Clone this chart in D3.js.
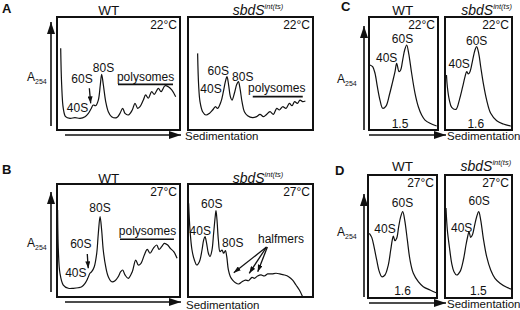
<!DOCTYPE html>
<html>
<head>
<meta charset="utf-8">
<script src="https://cdn.jsdelivr.net/npm/d3@7"></script>
<style>
  body { margin: 0; background: #fff; }
  svg { display: block; }
  text { font-family: "Liberation Sans", Arial, sans-serif; fill: #111; }
</style>
</head>
<body>
<svg id="fig" width="520" height="310"></svg>
<script>
// polysome profiles: sedimentation position (0-100 of gradient) and A254 (0-100, relative)
const wt22Sed = [3.0,3.8,5.1,7.0,10.6,14.6,18.7,22.8,25.5,27.6,29.5,31.4,33.6,35.2,36.3,37.7,39.6,41.7,44.4,48.5,51.2,53.4,55.3,58.0,61.2,63.4,65.6,67.5,70.2,72.1,74.2,77.0,79.1,82.4,84.6,87.8,90.5,93.3,96.5];
const wt22Abs = [72.3,39.8,19.2,11.8,10.3,10.9,10.3,11.8,14.7,18.6,22.1,21.5,26.5,39.8,49.3,39.8,25.1,16.2,11.8,10.9,14.7,19.2,14.7,13.3,17.7,23.6,19.2,20.6,26.5,31.0,28.1,33.9,31.6,36.9,33.9,39.2,38.3,35.4,29.5];

const mut22Sed = [7.7,8.5,9.6,11.7,14.4,17.1,19.7,21.9,23.7,26.4,28.3,29.9,31.2,32.5,33.9,35.2,37.1,39.0,40.3,41.6,43.2,45.1,47.7,51.7,54.9,57.6,60.3,62.4,65.6,68.3,71.0,73.1,75.7,78.4,81.1,83.2,85.3,87.5,89.6,91.7,93.9];
const mut22Abs = [67.8,39.8,25.1,16.2,13.3,14.7,17.7,20.6,19.2,25.1,33.9,42.8,47.2,39.8,29.5,26.5,32.5,40.4,42.8,36.9,25.1,16.2,12.7,10.9,11.8,13.9,11.8,13.3,16.2,13.9,19.2,17.7,20.6,19.2,23.6,21.5,25.1,23.6,26.5,25.1,25.7];

const wt27Sed = [0.5,1.1,2.4,5.1,9.2,13.3,17.3,20.1,22.8,25.0,26.8,28.2,30.3,32.3,33.6,35.0,36.3,37.6,39.6,41.7,44.5,47.2,49.8,51.8,53.4,55.3,58.0,61.2,64.0,66.1,68.3,71.0,73.4,75.6,78.3,81.1,82.9,85.1,87.2,90.0,92.1,94.9,97.6];
const wt27Abs = [77.0,41.6,21.0,10.6,7.7,7.7,8.2,9.1,12.1,16.5,21.0,22.4,26.8,38.7,56.4,71.1,59.3,41.6,26.8,18.0,13.5,14.4,18.0,22.4,23.9,19.5,16.5,22.4,32.7,28.3,29.8,37.2,42.2,38.7,43.1,46.0,42.2,44.5,47.5,46.0,43.1,40.1,34.2];

const mut27Sed = [0.5,1.6,3.2,5.1,7.0,9.1,11.2,12.5,13.6,14.9,16.3,17.6,19.2,20.5,21.9,22.4,23.2,24.3,25.6,27.2,28.5,29.9,31.0,32.3,33.9,35.7,37.9,40.5,43.2,45.9,48.5,51.2,53.1,55.7,58.4,61.1,63.7,67.2,70.4,73.6,77.1,80.5,83.7,86.4,89.1,91.7];
const mut27Abs = [82.9,59.3,41.6,32.7,28.3,31.2,41.6,50.4,53.4,47.5,38.7,35.7,41.6,56.4,72.6,76.4,68.1,50.4,40.1,41.6,38.7,41.0,35.7,23.9,18.0,15.0,12.7,11.5,13.5,15.0,14.4,17.4,16.5,18.6,19.5,18.6,20.4,20.4,21.0,20.4,19.5,18.0,15.0,10.6,6.2,0.3];

// subunit profiles (low Mg2+)
const wtSub22Sed = [1.4,5.3,8.7,12.1,15.9,19.8,24.6,29.5,34.3,37.7,40.1,43.5,45.9,48.8,51.7,54.6,57.5,61.8,66.7,71.5,76.3,81.2,88.4,98.1];
const wtSub22Abs = [57.5,56.0,50.2,38.3,26.5,19.2,21.2,31.0,42.8,51.6,59.0,51.6,53.1,61.9,70.8,75.2,67.9,50.2,32.5,20.6,13.3,8.8,5.9,3.5];

const mutSub22Sed = [2.2,3.5,6.5,10.0,16.4,21.4,26.4,29.9,32.4,34.8,37.3,41.3,44.8,47.3,50.3,53.3,57.2,62.2,68.2,77.2,87.0,98.1];
const mutSub22Abs = [48.7,38.3,26.5,20.1,18.3,26.5,38.3,47.2,51.6,49.6,51.6,61.9,70.8,73.7,67.9,56.0,41.3,26.5,14.8,8.2,5.3,3.5];

const wtSub27Sed = [1.9,5.4,8.7,12.6,16.4,19.9,24.6,29.4,32.9,35.2,36.7,39.1,41.6,44.5,47.4,50.3,53.2,57.0,60.9,65.7,72.9,80.1,89.9,98.6];
const wtSub27Abs = [52.6,49.3,41.7,30.9,21.4,17.3,18.7,26.8,39.0,47.2,50.4,46.6,48.5,58.0,66.1,70.2,63.4,47.2,30.9,20.1,13.3,9.2,6.5,4.3];

const mutSub27Sed = [1.5,3.5,6.5,10.0,13.4,17.4,22.4,27.4,31.3,33.8,35.8,38.3,40.8,44.3,47.3,50.3,53.3,57.2,62.2,68.2,74.6,82.1,92.1,99.6];
const mutSub27Abs = [73.2,55.3,41.7,28.2,21.4,18.7,21.4,30.9,43.1,49.8,53.9,49.3,51.2,59.3,66.1,70.2,63.4,48.5,33.6,22.8,16.0,12.0,8.7,7.1];

// 60S:40S ratios printed under the subunit profiles
const ratiosC = ['1.5', '1.6'];
const ratiosD = ['1.6', '1.5'];

const svg = d3.select('#fig');
const defs = svg.append('defs');

function marker(id, w, h) {
    defs.append('marker')
        .attr('id', id)
        .attr('viewBox', `0 0 ${w} ${h}`)
        .attr('refX', w).attr('refY', h / 2)
        .attr('markerWidth', w).attr('markerHeight', h)
        .attr('markerUnits', 'userSpaceOnUse')
        .attr('orient', 'auto')
        .append('path')
        .attr('d', `M0,0L${w},${h / 2}L0,${h}Z`)
        .attr('fill', '#111');
}
marker('axisHead', 12, 8);
marker('noteHead', 7, 5);

// row furniture: panel letter, axis arrows, axis labels
const rows = [
    { letter: 'A', lx: 2, ly: 13, ax: 51, ayTop: 22, ayBot: 126, sy: 135, sxL: 65, sxR: 181, sedX: 185, sedY: 140, aX: 27, aY: 81 },
    { letter: 'B', lx: 2, ly: 174, ax: 51, ayTop: 192, ayBot: 292, sy: 302, sxL: 65, sxR: 181, sedX: 186, sedY: 309, aX: 27, aY: 247 },
    { letter: 'C', lx: 341, ly: 11, ax: 364, ayTop: 26, ayBot: 130, sy: 135, sxL: 369, sxR: 446, sedX: 447, sedY: 140, aX: 337, aY: 83 },
    { letter: 'D', lx: 335, ly: 175, ax: 364, ayTop: 194, ayBot: 297, sy: 303, sxL: 369, sxR: 446, sedX: 447, sedY: 308, aX: 337, aY: 236 }
];

rows.forEach(r => {
    svg.append('text')
        .attr('x', r.lx).attr('y', r.ly)
        .attr('font-size', '13px').attr('font-weight', 'bold')
        .text(r.letter);

    svg.append('line')
        .attr('x1', r.ax).attr('y1', r.ayBot).attr('x2', r.ax).attr('y2', r.ayTop)
        .attr('stroke', '#111').attr('stroke-width', 1.6)
        .attr('marker-end', 'url(#axisHead)');

    svg.append('line')
        .attr('x1', r.sxL).attr('y1', r.sy).attr('x2', r.sxR).attr('y2', r.sy)
        .attr('stroke', '#111').attr('stroke-width', 1.6)
        .attr('marker-end', 'url(#axisHead)');

    svg.append('text')
        .attr('x', r.sedX).attr('y', r.sedY)
        .attr('font-size', '11.5px')
        .text('Sedimentation');

    const a = svg.append('text')
        .attr('x', r.aX).attr('y', r.aY)
        .attr('font-size', '12px')
        .text('A');
    a.append('tspan').attr('font-size', '7px').attr('dy', 3).text('254');
});

const panels = [
    { x0: 57, x1: 180, y0: 17, y1: 130, sed: wt22Sed, abs: wt22Abs, strain: 'WT', tx: 0.42, ty: 15, temp: '22°C',
      labels: [['80S', 37.8, 51.1], ['60S', 20.3, 41.3], ['40S', 16.7, 15.7], ['polysomes', 72.0, 43.6]],
      bars: [[49.6, 94.3, 40.4]], arrows: [[26.3, 36.9, 27.4, 23.6]] },
    { x0: 188, x1: 313, y0: 17, y1: 130, sed: mut22Sed, abs: mut22Abs, strain: 'sbdS', tx: 0.56, ty: 15, temp: '22°C',
      labels: [['60S', 24.2, 48.7], ['80S', 43.8, 43.6], ['40S', 18.4, 32.5], ['polysomes', 71.0, 33.9]],
      bars: [[51.8, 91.8, 29.5]], arrows: [] },
    { x0: 57, x1: 180, y0: 184, y1: 297, sed: wt27Sed, abs: wt27Abs, strain: 'WT', tx: 0.42, ty: 183, temp: '27°C',
      labels: [['80S', 35.0, 75.5], ['60S', 19.4, 43.1], ['40S', 15.3, 17.4], ['polysomes', 73.6, 54.9]],
      bars: [[51.2, 95.1, 51.1]], arrows: [[24.6, 38.1, 25.4, 25.4]] },
    { x0: 188, x1: 313, y0: 184, y1: 297, sed: mut27Sed, abs: mut27Abs, strain: 'sbdS', tx: 0.56, ty: 183, temp: '27°C',
      labels: [['60S', 19.0, 78.5], ['40S', 9.8, 54.9], ['80S', 35.8, 44.5], ['halfmers', 74.4, 47.5]],
      bars: [], arrows: [[62.8, 44.2, 36.6, 21.5], [62.8, 44.2, 49.0, 21.0], [63.5, 44.2, 55.8, 22.4]] },
    { x0: 369, x1: 438, y0: 17, y1: 130, sed: wtSub22Sed, abs: wtSub22Abs, strain: 'WT', tx: 0.49, ty: 15, temp: '22°C',
      labels: [['40S', 25.6, 60.5], ['60S', 48.6, 76.7], [ratiosC[0], 44.9, 1.5]], bars: [], arrows: [] },
    { x0: 445, x1: 512, y0: 17, y1: 130, sed: mutSub22Sed, abs: mutSub22Abs, strain: 'sbdS', tx: 0.62, ty: 15, temp: '22°C',
      labels: [['40S', 21.2, 54.6], ['60S', 47.3, 75.2], [ratiosC[1], 45.9, 1.5]], bars: [], arrows: [] },
    { x0: 368, x1: 437, y0: 175, y1: 298, sed: wtSub27Sed, abs: wtSub27Abs, strain: 'WT', tx: 0.5, ty: 171, temp: '27°C',
      labels: [['40S', 24.6, 52.6], ['60S', 50.0, 74.2], [ratiosD[0], 50.0, 2.4]], bars: [], arrows: [] },
    { x0: 445, x1: 512, y0: 175, y1: 298, sed: mutSub27Sed, abs: mutSub27Abs, strain: 'sbdS', tx: 0.61, ty: 171, temp: '27°C',
      labels: [['40S', 24.9, 53.9], ['60S', 51.0, 75.6], [ratiosD[1], 49.7, 2.4]], bars: [], arrows: [] }
];

panels.forEach(p => {
    const x = d3.scaleLinear().domain([0, 100]).range([p.x0, p.x1]);
    const y = d3.scaleLinear().domain([0, 100]).range([p.y1, p.y0]);
    const g = svg.append('g');

    const line = d3.line()
        .x(d => x(d[0]))
        .y(d => y(d[1]))
        .curve(d3.curveCatmullRom.alpha(0.5));

    g.append('path')
        .datum(d3.zip(p.sed, p.abs))
        .attr('d', line)
        .attr('fill', 'none')
        .attr('stroke', '#111')
        .attr('stroke-width', 1.2)
        .attr('stroke-linejoin', 'round');

    g.append('rect')
        .attr('x', p.x0).attr('y', p.y0)
        .attr('width', p.x1 - p.x0).attr('height', p.y1 - p.y0)
        .attr('fill', 'none').attr('stroke', '#111').attr('stroke-width', 2);

    // strain title
    const t = g.append('text')
        .attr('x', p.x0 + p.tx * (p.x1 - p.x0)).attr('y', p.ty)
        .attr('text-anchor', 'middle');
    if (p.strain === 'WT') {
        t.attr('font-size', '13.5px').text('WT');
    } else {
        t.append('tspan').attr('font-size', '14px').attr('font-style', 'italic').text('sbdS');
        t.append('tspan').attr('font-size', '7.5px').attr('font-style', 'italic').attr('dy', -6).text('int(ts)');
    }

    g.append('text')
        .attr('x', p.x1 - 3).attr('y', p.y0 + 12)
        .attr('text-anchor', 'end').attr('font-size', '12px')
        .text(p.temp);

    g.selectAll('.peak')
        .data(p.labels)
        .enter()
        .append('text')
        .attr('class', 'peak')
        .attr('x', d => x(d[1]))
        .attr('y', d => y(d[2]))
        .attr('text-anchor', 'middle')
        .attr('font-size', '12px')
        .text(d => d[0]);

    g.selectAll('.bar')
        .data(p.bars)
        .enter()
        .append('line')
        .attr('x1', d => x(d[0])).attr('x2', d => x(d[1]))
        .attr('y1', d => y(d[2])).attr('y2', d => y(d[2]))
        .attr('stroke', '#111').attr('stroke-width', 1.6);

    g.selectAll('.note')
        .data(p.arrows)
        .enter()
        .append('line')
        .attr('x1', d => x(d[0])).attr('y1', d => y(d[1]))
        .attr('x2', d => x(d[2])).attr('y2', d => y(d[3]))
        .attr('stroke', '#111').attr('stroke-width', 1.3)
        .attr('marker-end', 'url(#noteHead)');
});
</script>
</body>
</html>
